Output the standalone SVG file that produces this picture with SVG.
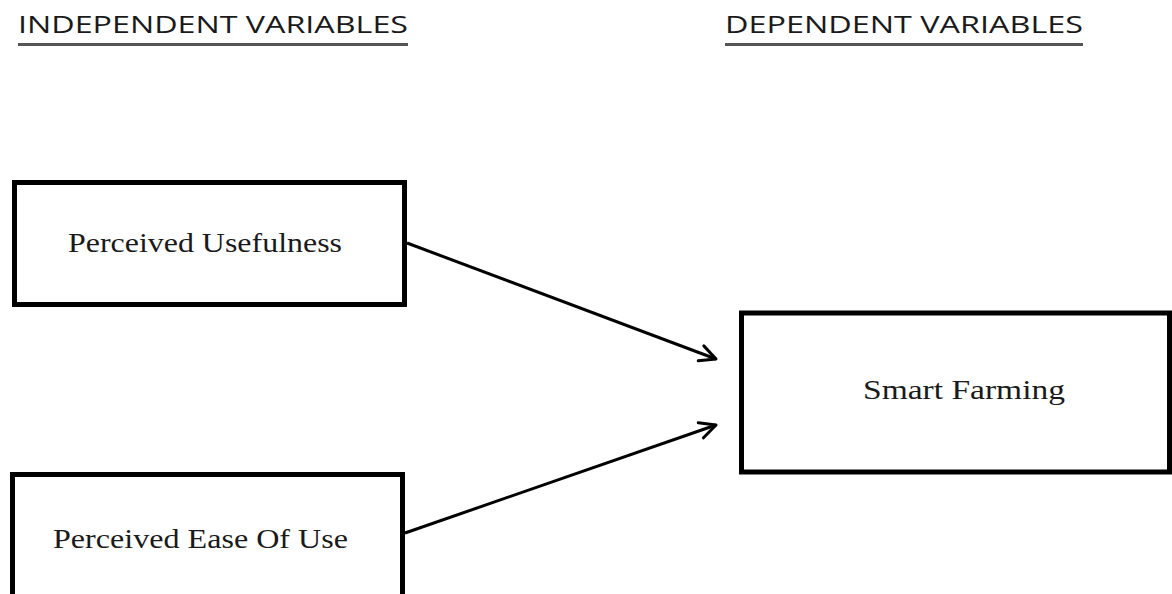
<svg xmlns="http://www.w3.org/2000/svg" width="1172" height="594" viewBox="0 0 1172 594">
<defs>
<style>
.hdr{font-family:"Open Sans","Liberation Sans",sans-serif;font-size:24px;fill:#1a1a1a}
.ul{stroke:#555;stroke-width:3}
.box{fill:#fff;stroke:#000;stroke-width:5}
.lbl{font-family:"Liberation Serif","DejaVu Serif",serif;font-size:28px;fill:#1a1a1a}
.conn{stroke:#000;stroke-width:3;fill:none}
</style>
<marker id="arr" markerUnits="userSpaceOnUse" markerWidth="30" markerHeight="30" refX="20" refY="15" orient="auto" viewBox="0 0 30 30">
<path d="M4,7 L20,15 L4,23" fill="none" stroke="#000" stroke-width="3" stroke-linecap="round" stroke-linejoin="round"/>
</marker>
</defs>
<rect width="1172" height="594" fill="#fff"/>
<g id="header-independent">
<text class="hdr" x="18" y="33" textLength="390" lengthAdjust="spacingAndGlyphs">INDEPENDENT VARIABLES</text>
<line class="ul" x1="18" y1="44.5" x2="408" y2="44.5"/>
</g>
<g id="header-dependent">
<text class="hdr" x="725" y="33" textLength="358" lengthAdjust="spacingAndGlyphs">DEPENDENT VARIABLES</text>
<line class="ul" x1="725" y1="44.5" x2="1083" y2="44.5"/>
</g>
<g id="connectors">
<line class="conn" x1="407" y1="243" x2="716" y2="359" marker-end="url(#arr)"/>
<line class="conn" x1="405" y1="533" x2="716" y2="425" marker-end="url(#arr)"/>
</g>
<g id="node-usefulness">
<rect class="box" x="14.5" y="182.5" width="390" height="122"/>
<text class="lbl" x="68" y="252" textLength="274" lengthAdjust="spacingAndGlyphs">Perceived Usefulness</text>
</g>
<g id="node-ease">
<rect class="box" x="12.5" y="474.5" width="390" height="140"/>
<text class="lbl" x="53" y="548" textLength="295" lengthAdjust="spacingAndGlyphs">Perceived Ease Of Use</text>
</g>
<g id="node-smart-farming">
<rect class="box" x="741.5" y="313" width="428" height="159"/>
<text class="lbl" x="863" y="399" font-size="30" textLength="202" lengthAdjust="spacingAndGlyphs">Smart Farming</text>
</g>
</svg>
